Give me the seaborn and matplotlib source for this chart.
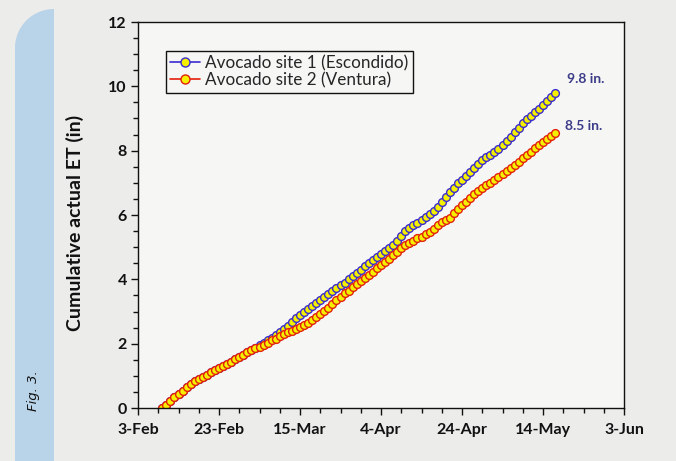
import numpy as np
import pandas as pd
import matplotlib
matplotlib.use("Agg")
import matplotlib.pyplot as plt
import seaborn as sns
from matplotlib.patches import Polygon
from matplotlib.lines import Line2D
from matplotlib.ticker import MultipleLocator

# ---------------- data ----------------
start_date = "2013-02-09"
series_names = ["Avocado site 1 (Escondido)", "Avocado site 2 (Ventura)"]

site1_et = [0.00, 0.10, 0.22, 0.33, 0.43, 0.53, 0.64, 0.75, 0.83, 0.90,
            0.97, 1.04, 1.11, 1.18, 1.24, 1.31, 1.37, 1.44, 1.51, 1.58,
            1.66, 1.74, 1.81, 1.88, 1.95, 2.03, 2.11, 2.19, 2.27, 2.35,
            2.45, 2.56, 2.68, 2.80, 2.90, 2.99, 3.08, 3.17, 3.26, 3.35,
            3.44, 3.53, 3.63, 3.72, 3.81, 3.90, 4.00, 4.10, 4.20, 4.30,
            4.40, 4.50, 4.60, 4.70, 4.79, 4.88, 4.97, 5.07, 5.20, 5.35,
            5.50, 5.60, 5.68, 5.76, 5.85, 5.94, 6.03, 6.13, 6.25, 6.40,
            6.55, 6.70, 6.84, 6.98, 7.10, 7.22, 7.34, 7.46, 7.58, 7.70,
            7.80, 7.88, 7.96, 8.05, 8.17, 8.30, 8.43, 8.58, 8.72, 8.85,
            8.97, 9.09, 9.20, 9.31, 9.43, 9.55, 9.67, 9.80]

site2_et = [0.00, 0.10, 0.22, 0.33, 0.43, 0.53, 0.64, 0.75, 0.83, 0.90,
            0.97, 1.04, 1.11, 1.18, 1.24, 1.31, 1.37, 1.44, 1.51, 1.58,
            1.66, 1.73, 1.79, 1.85, 1.91, 1.97, 2.03, 2.10, 2.16, 2.23,
            2.29, 2.35, 2.40, 2.45, 2.52, 2.58, 2.65, 2.74, 2.83, 2.92,
            3.01, 3.12, 3.23, 3.35, 3.46, 3.56, 3.65, 3.75, 3.84, 3.94,
            4.04, 4.14, 4.24, 4.34, 4.44, 4.54, 4.64, 4.75, 4.86, 4.96,
            5.06, 5.13, 5.20, 5.27, 5.33, 5.40, 5.48, 5.58, 5.70, 5.78,
            5.84, 5.92, 6.05, 6.20, 6.30, 6.41, 6.52, 6.64, 6.76, 6.84,
            6.92, 7.01, 7.10, 7.19, 7.28, 7.37, 7.46, 7.56, 7.66, 7.76,
            7.86, 7.97, 8.07, 8.17, 8.26, 8.35, 8.45, 8.54]

end_labels = ["9.8 in.", "8.5 in."]
tick_dates = ["2013-02-03", "2013-02-23", "2013-03-15", "2013-04-04",
              "2013-04-24", "2013-05-14", "2013-06-03"]
tick_labels = ["3-Feb", "23-Feb", "15-Mar", "4-Apr", "24-Apr", "14-May", "3-Jun"]
y_ticks = [0, 2, 4, 6, 8, 10, 12]

# ---------------- style ----------------
sns.set_style("ticks")
plt.rcParams["font.family"] = ["Lato", "DejaVu Sans"]

W, H = 676, 461
fig = plt.figure(figsize=(W / 100, H / 100), dpi=100)
fig.patch.set_facecolor("#ececeb")

# left blue band with rounded top
theta = np.linspace(np.pi, np.pi / 2, 40)
arc = [(54 + 39 * np.cos(t), 413 + 39 * np.sin(t)) for t in theta]
verts = [(15, 0), (15, 413)] + arc + [(54, 0)]
verts_in = [(x / 100, y / 100) for x, y in verts]
band = Polygon(verts_in, closed=True, transform=fig.dpi_scale_trans,
               facecolor="#b9d3e8", edgecolor="none", zorder=0)
fig.add_artist(band)
fig.text(34 / W, 1 - 391 / H, "Fig. 3.", rotation=90, ha="center", va="center",
         fontsize=9.5, style="italic", color="#111111",
         family=["DejaVu Sans"])

ax = fig.add_axes([138 / W, 1 - 408 / H, 486 / W, 386 / H])
ax.set_facecolor("#f6f6f5")

dates = pd.date_range(start_date, periods=len(site1_et), freq="D")
df1 = pd.DataFrame({"date": dates, "et": site1_et})
df2 = pd.DataFrame({"date": dates, "et": site2_et})

edge_colors = ["#3a2ccf", "#e3200c"]
for df, ec in zip([df1, df2], edge_colors):
    sns.lineplot(data=df, x="date", y="et", ax=ax, color=ec, linewidth=1.2,
                 marker="o", markersize=5.6, markerfacecolor="#f5f000",
                 markeredgecolor=ec, markeredgewidth=1.0)

# end labels
for df, lab, off in zip([df1, df2], end_labels, [(12, 14), (10, 7)]):
    ax.annotate(lab, xy=(df["date"].iloc[-1], df["et"].iloc[-1]),
                xytext=off, textcoords="offset pixels", ha="left", va="center",
                fontsize=10, fontweight="bold", color="#3c3c88")

ax.set_xlim(pd.Timestamp(tick_dates[0]), pd.Timestamp(tick_dates[-1]))
ax.set_ylim(0, 12)
ax.set_xticks(pd.to_datetime(tick_dates))
ax.set_xticklabels(tick_labels)
minor_days = pd.date_range(tick_dates[0], tick_dates[-1], freq="5D")
ax.set_xticks(minor_days, minor=True)
ax.set_yticks(y_ticks)
ax.yaxis.set_minor_locator(MultipleLocator(0.5))

ax.set_xlabel("")
ax.set_ylabel("")
fig.text(75 / W, 1 - 223 / H, "Cumulative actual ET (in)", rotation=90,
         ha="center", va="center", fontsize=14, fontweight="bold", color="#111111")

for s in ax.spines.values():
    s.set_visible(True)
    s.set_color("#111111")
    s.set_linewidth(1.0)

ax.tick_params(axis="both", which="major", direction="out", length=5, width=1,
               color="#111111", labelsize=11.5, labelcolor="#111111")
ax.tick_params(axis="both", which="minor", direction="out", length=3.5, width=1,
               color="#111111")
ax.tick_params(axis="x", which="major", pad=6)
ax.tick_params(axis="y", which="major", pad=3)
for lbl in ax.get_xticklabels() + ax.get_yticklabels():
    lbl.set_fontweight("bold")

handles = [Line2D([0], [0], color=ec, linewidth=1.2, marker="o", markersize=6.5,
                  markerfacecolor="#f5f000", markeredgecolor=ec, markeredgewidth=1.0)
           for ec in edge_colors]
leg = ax.legend(handles, series_names, loc="upper left",
                bbox_to_anchor=(0.058, 0.925), borderaxespad=0,
                fontsize=12.3, frameon=True, fancybox=False, handlelength=1.75,
                handletextpad=0.3, labelspacing=0.05, borderpad=0.25)
leg.get_frame().set_edgecolor("#111111")
leg.get_frame().set_linewidth(1.0)
leg.get_frame().set_facecolor("#f6f6f5")
leg.get_frame().set_alpha(1)

fig.savefig("out.png", dpi=100, facecolor=fig.get_facecolor())
